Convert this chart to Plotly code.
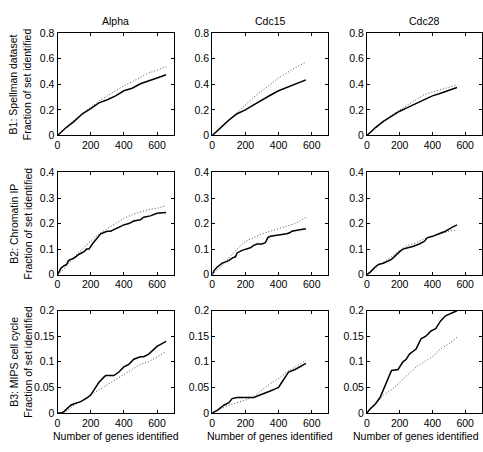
import plotly.graph_objects as go

# Column (strain) names and row (reference set) labels
strains = ["Alpha", "Cdc15", "Cdc28"]
row_labels = [
    "B1: Spellman dataset<br>Fraction of set identified",
    "B2: Chromatin IP<br>Fraction of set identified",
    "B3: MIPS cell cycle<br>Fraction of set identified",
]
y_max = [0.8, 0.4, 0.2]
y_ticks = [
    [0, 0.2, 0.4, 0.6, 0.8],
    [0, 0.1, 0.2, 0.3, 0.4],
    [0, 0.05, 0.1, 0.15, 0.2],
]
x_ticks = [0, 200, 400, 600]

# --- B1: Spellman dataset ---
b1_alpha_obs_x = [0, 50, 100, 150, 200, 250, 300, 350, 400, 450, 500, 550, 600, 655]
b1_alpha_obs_y = [0, 0.06, 0.11, 0.17, 0.21, 0.255, 0.28, 0.31, 0.35, 0.37, 0.405, 0.43, 0.45, 0.475]
b1_alpha_exp_x = [0, 100, 150, 200, 250, 300, 350, 400, 450, 500, 550, 600, 655]
b1_alpha_exp_y = [0, 0.12, 0.17, 0.22, 0.27, 0.31, 0.35, 0.39, 0.42, 0.455, 0.49, 0.51, 0.54]

b1_cdc15_obs_x = [0, 50, 100, 150, 200, 250, 300, 350, 400, 450, 500, 565]
b1_cdc15_obs_y = [0, 0.06, 0.12, 0.17, 0.20, 0.24, 0.28, 0.315, 0.35, 0.375, 0.40, 0.435]
b1_cdc15_exp_x = [0, 100, 150, 200, 250, 300, 350, 400, 450, 500, 565]
b1_cdc15_exp_y = [0, 0.12, 0.18, 0.24, 0.30, 0.35, 0.40, 0.45, 0.49, 0.53, 0.575]

b1_cdc28_obs_x = [0, 50, 100, 150, 200, 250, 300, 350, 400, 450, 500, 550]
b1_cdc28_obs_y = [0, 0.06, 0.11, 0.15, 0.19, 0.22, 0.25, 0.28, 0.31, 0.33, 0.355, 0.375]
b1_cdc28_exp_x = [0, 100, 150, 200, 250, 300, 350, 400, 450, 500, 550]
b1_cdc28_exp_y = [0, 0.11, 0.16, 0.20, 0.24, 0.28, 0.32, 0.34, 0.36, 0.38, 0.395]

# --- B2: Chromatin IP ---
b2_alpha_obs_x = [0, 10, 20, 40, 55, 65, 100, 130, 160, 175, 190, 210, 240, 260, 280, 300, 320,
                  350, 400, 430, 460, 500, 520, 560, 600, 655]
b2_alpha_obs_y = [0, 0.01, 0.025, 0.035, 0.04, 0.055, 0.065, 0.08, 0.09, 0.10, 0.10, 0.12, 0.145,
                  0.16, 0.165, 0.17, 0.17, 0.18, 0.195, 0.20, 0.21, 0.215, 0.225, 0.23, 0.24, 0.243]
b2_alpha_exp_x = [0, 50, 100, 150, 200, 250, 300, 350, 400, 450, 500, 550, 600, 655]
b2_alpha_exp_y = [0, 0.03, 0.07, 0.10, 0.13, 0.16, 0.18, 0.20, 0.22, 0.235, 0.245, 0.255, 0.26, 0.27]

b2_cdc15_obs_x = [0, 10, 30, 60, 100, 120, 140, 150, 180, 200, 230, 250, 270, 300, 320, 335,
                  350, 400, 450, 470, 480, 520, 565]
b2_cdc15_obs_y = [0, 0.015, 0.03, 0.045, 0.055, 0.065, 0.07, 0.085, 0.095, 0.10, 0.105, 0.115,
                  0.12, 0.12, 0.125, 0.145, 0.15, 0.155, 0.16, 0.165, 0.17, 0.175, 0.18]
b2_cdc15_exp_x = [0, 50, 100, 150, 200, 250, 300, 350, 400, 450, 500, 565]
b2_cdc15_exp_y = [0, 0.03, 0.065, 0.10, 0.13, 0.145, 0.16, 0.17, 0.18, 0.19, 0.20, 0.225]

b2_cdc28_obs_x = [0, 20, 50, 70, 100, 150, 200, 220, 250, 280, 320, 350, 370, 400, 440, 480,
                  520, 540, 550]
b2_cdc28_obs_y = [0, 0.01, 0.03, 0.04, 0.045, 0.06, 0.09, 0.10, 0.105, 0.11, 0.12, 0.13, 0.145,
                  0.15, 0.16, 0.17, 0.185, 0.19, 0.195]
b2_cdc28_exp_x = [0, 50, 100, 150, 200, 250, 300, 350, 400, 450, 500, 550]
b2_cdc28_exp_y = [0, 0.025, 0.05, 0.07, 0.095, 0.115, 0.125, 0.14, 0.15, 0.16, 0.17, 0.175]

# --- B3: MIPS cell cycle ---
b3_alpha_obs_x = [0, 25, 40, 60, 80, 100, 140, 180, 200, 220, 250, 280, 290, 340, 370, 400,
                  430, 460, 500, 520, 550, 600, 630, 655]
b3_alpha_obs_y = [0, 0, 0.003, 0.01, 0.015, 0.018, 0.022, 0.03, 0.035, 0.045, 0.06, 0.07, 0.073,
                  0.073, 0.08, 0.09, 0.095, 0.105, 0.11, 0.11, 0.115, 0.13, 0.135, 0.14]
b3_alpha_exp_x = [0, 40, 60, 100, 150, 200, 250, 300, 350, 400, 450, 500, 550, 600, 655]
b3_alpha_exp_y = [0, 0, 0.005, 0.015, 0.025, 0.035, 0.045, 0.055, 0.065, 0.075, 0.085, 0.095,
                  0.10, 0.11, 0.12]

b3_cdc15_obs_x = [0, 30, 70, 100, 120, 150, 180, 250, 280, 320, 350, 380, 400, 420, 440, 460,
                  500, 540, 565]
b3_cdc15_obs_y = [0, 0.005, 0.015, 0.02, 0.028, 0.03, 0.03, 0.03, 0.034, 0.04, 0.043, 0.047,
                  0.05, 0.06, 0.07, 0.08, 0.085, 0.092, 0.097]
b3_cdc15_exp_x = [0, 100, 200, 250, 300, 350, 400, 450, 500, 565]
b3_cdc15_exp_y = [0, 0.015, 0.025, 0.032, 0.045, 0.057, 0.067, 0.08, 0.09, 0.103]

b3_cdc28_obs_x = [0, 20, 50, 80, 100, 130, 150, 190, 220, 240, 260, 300, 330, 360, 390, 420,
                  450, 480, 520, 550]
b3_cdc28_obs_y = [0, 0.008, 0.017, 0.03, 0.045, 0.07, 0.083, 0.085, 0.10, 0.105, 0.115, 0.125,
                  0.145, 0.15, 0.16, 0.165, 0.18, 0.19, 0.195, 0.20]
b3_cdc28_exp_x = [0, 50, 100, 150, 200, 250, 300, 350, 400, 450, 500, 550]
b3_cdc28_exp_y = [0, 0.015, 0.035, 0.045, 0.06, 0.075, 0.09, 0.10, 0.11, 0.125, 0.135, 0.148]

panels = [
    [(b1_alpha_obs_x, b1_alpha_obs_y, b1_alpha_exp_x, b1_alpha_exp_y),
     (b1_cdc15_obs_x, b1_cdc15_obs_y, b1_cdc15_exp_x, b1_cdc15_exp_y),
     (b1_cdc28_obs_x, b1_cdc28_obs_y, b1_cdc28_exp_x, b1_cdc28_exp_y)],
    [(b2_alpha_obs_x, b2_alpha_obs_y, b2_alpha_exp_x, b2_alpha_exp_y),
     (b2_cdc15_obs_x, b2_cdc15_obs_y, b2_cdc15_exp_x, b2_cdc15_exp_y),
     (b2_cdc28_obs_x, b2_cdc28_obs_y, b2_cdc28_exp_x, b2_cdc28_exp_y)],
    [(b3_alpha_obs_x, b3_alpha_obs_y, b3_alpha_exp_x, b3_alpha_exp_y),
     (b3_cdc15_obs_x, b3_cdc15_obs_y, b3_cdc15_exp_x, b3_cdc15_exp_y),
     (b3_cdc28_obs_x, b3_cdc28_obs_y, b3_cdc28_exp_x, b3_cdc28_exp_y)],
]

W, H = 483, 452
FONT = "Liberation Sans, Arial, sans-serif"
FS = 10.5
col_px = [(55, 172), (211, 328), (367, 482.5)]
row_px = [(28, 133), (171, 276), (313, 418)]

fig = go.Figure()
layout = dict(
    width=W, height=H,
    margin=dict(l=0, r=0, t=0, b=0),
    paper_bgcolor="white", plot_bgcolor="white",
    showlegend=False,
    font=dict(family=FONT, size=FS, color="black"),
    annotations=[],
)

k = 0
for r in range(3):
    for c in range(3):
        k += 1
        xa = "x" if k == 1 else f"x{k}"
        ya = "y" if k == 1 else f"y{k}"
        ox, oy, ex, ey = panels[r][c]
        fig.add_trace(go.Scatter(x=ex, y=ey, mode="lines", xaxis=xa, yaxis=ya,
                                 line=dict(color="#505050", width=1, dash="1px,2px")))
        fig.add_trace(go.Scatter(x=ox, y=oy, mode="lines", xaxis=xa, yaxis=ya,
                                 line=dict(color="black", width=1.5)))
        x0, x1 = col_px[c]
        y0, y1 = row_px[r]
        axis_common = dict(
            showline=True, linecolor="black", linewidth=1, mirror="ticks",
            ticks="inside", ticklen=3, tickcolor="black", tickwidth=1,
            showgrid=False, zeroline=False, fixedrange=True,
            tickfont=dict(family=FONT, size=FS, color="black"),
        )
        layout["xaxis" if k == 1 else f"xaxis{k}"] = dict(
            axis_common, domain=[x0 / W, x1 / W], range=[0, 700],
            tickvals=x_ticks, ticktext=[str(v) for v in x_ticks],
            anchor=ya,
        )
        layout["yaxis" if k == 1 else f"yaxis{k}"] = dict(
            axis_common, domain=[1 - y1 / H, 1 - y0 / H], range=[0, y_max[r]],
            tickvals=y_ticks[r], ticktext=[f"{v:g}" for v in y_ticks[r]],
            anchor=xa,
        )
        if r == 0:
            layout["annotations"].append(dict(
                text=strains[c], x=(x0 + x1) / 2 / W, y=1 - 15 / H,
                xref="paper", yref="paper", showarrow=False,
                font=dict(family=FONT, size=FS), xanchor="center", yanchor="middle"))
        if r == 2:
            if c == 2:
                tx, anchor = 482 / W, "right"
            else:
                tx, anchor = (x0 + x1) / 2 / W, "center"
            layout["annotations"].append(dict(
                text="Number of genes identified", x=tx, y=1 - 442 / H,
                xref="paper", yref="paper", showarrow=False,
                font=dict(family=FONT, size=FS), xanchor=anchor, yanchor="middle"))
    y0, y1 = row_px[r]
    layout["annotations"].append(dict(
        text=row_labels[r], x=18 / W, y=1 - (y0 + y1) / 2 / H,
        xref="paper", yref="paper", showarrow=False, textangle=-90,
        font=dict(family=FONT, size=FS), xanchor="center", yanchor="middle"))

fig.update_layout(**layout)
fig.write_html("out.html")
